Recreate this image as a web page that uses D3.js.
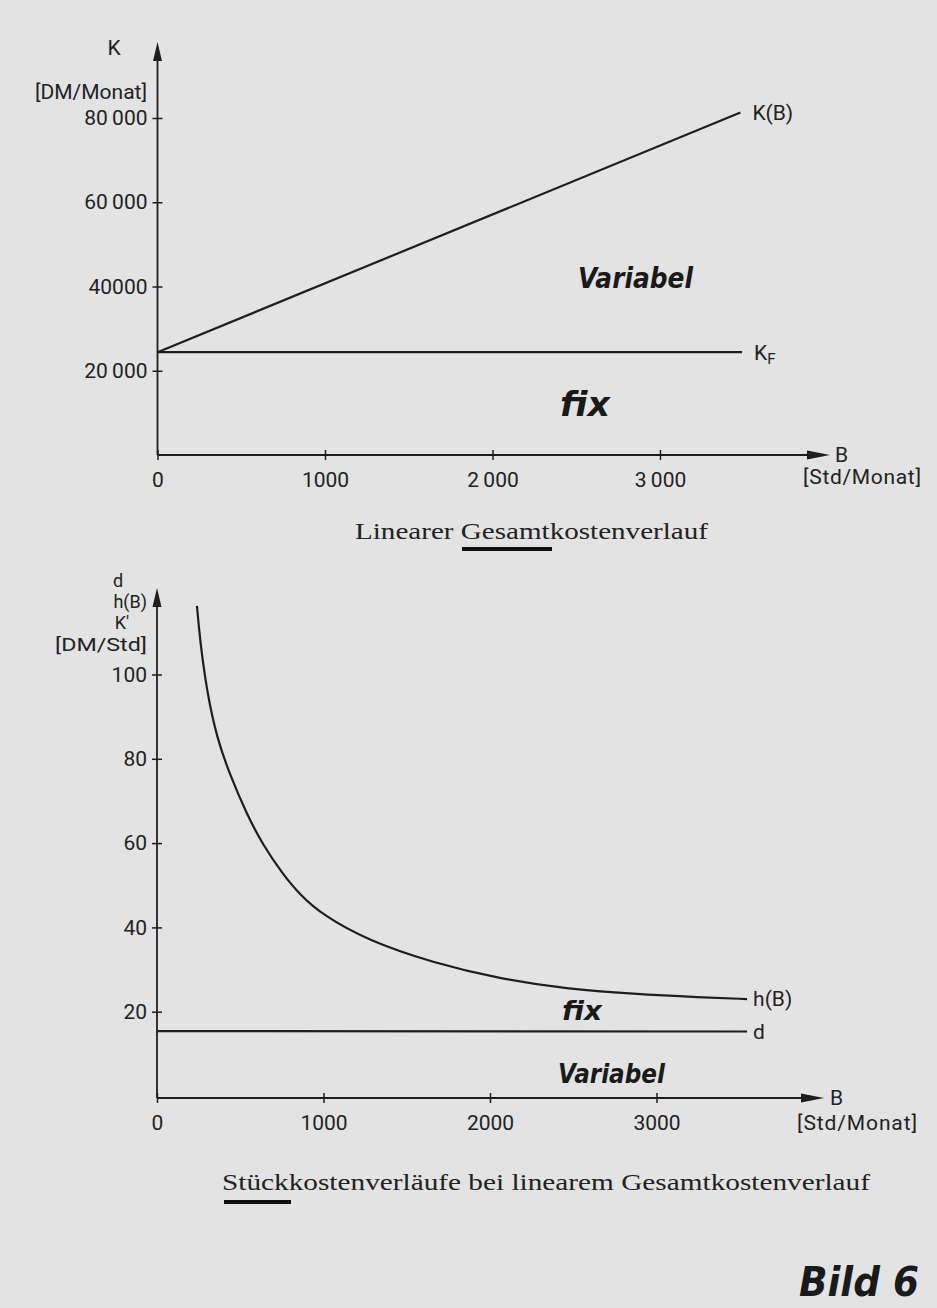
<!DOCTYPE html>
<html>
<head>
<meta charset="utf-8">
<script src="https://cdn.jsdelivr.net/npm/d3@7"></script>
<style>
  body { margin: 0; background: #e3e3e3; }
  svg { display: block; }
  .tick text { font-family: Roboto, sans-serif; font-size: 21px; fill: #222; }
  .lbl { font-family: Roboto, sans-serif; font-size: 21px; fill: #222; }
  .hand { font-family: "DejaVu Sans", sans-serif; font-weight: bold; font-style: italic; fill: #1a1a1a; }
  .cap { font-family: "Liberation Serif", serif; font-size: 23px; fill: #222; }
</style>
</head>
<body>
<script>
// top chart: Gesamtkosten K [DM/Monat] over B [Std/Monat]
var bTicks = [0, 1000, 2000, 3000];
var bTickLabelsTop = ["0", "1000", "2\u2009000", "3\u2009000"];
var bTickLabelsBottom = ["0", "1000", "2000", "3000"];
var kTicks = [20000, 40000, 60000, 80000];
var kTickLabels = ["20\u2009000", "40000", "60\u2009000", "80\u2009000"];
var kbLine = [{b: 0, k: 24400}, {b: 3480, k: 81300}];
var kfLine = [{b: 0, k: 24400}, {b: 3490, k: 24400}];

// bottom chart: Stueckkosten [DM/Std]
var hTicks = [20, 40, 60, 80, 100];
var hB_b = [240, 258, 300, 360, 438, 541, 637, 751, 859, 997, 1261, 1658, 2060, 2462, 2859, 3261, 3544];
var hB_v = [116.3, 108.2, 95.8, 84.9, 76.2, 66.7, 59.5, 52.9, 47.7, 42.9, 37.0, 31.6, 27.8, 25.4, 24.2, 23.4, 23.0];
var dLine = [{b: 0, v: 15.4}, {b: 3544, v: 15.3}];

var width = 937;
var height = 1308;
var ink = "#1e1e1e";

var svg = d3.select("body").append("svg")
    .attr("width", width)
    .attr("height", height);

svg.append("rect").attr("width", width).attr("height", height).attr("fill", "#e3e3e3");

function crossAxisX(g, scale, y, labels) {
    var axis = d3.axisBottom(scale).tickValues(bTicks)
        .tickFormat(function(d, i){ return labels[i]; })
        .tickSize(5).tickPadding(8);
    var a = g.append("g").attr("transform", "translate(0," + y + ")").call(axis);
    a.select(".domain").remove();
    a.selectAll(".tick line").attr("y1", -5).attr("stroke", ink).attr("stroke-width", 1.5);
    a.selectAll(".tick text").attr("dy", "0.9em");
    return a;
}

function crossAxisY(g, scale, x, ticks, labels) {
    var axis = d3.axisLeft(scale).tickValues(ticks)
        .tickFormat(function(d, i){ return labels ? labels[i] : d; })
        .tickSize(5).tickPadding(5);
    var a = g.append("g").attr("transform", "translate(" + x + ",0)").call(axis);
    a.select(".domain").remove();
    a.selectAll(".tick line").attr("x1", 5).attr("stroke", ink).attr("stroke-width", 1.5);
    return a;
}

function arrowUp(x, yTip) {
    svg.append("path").attr("d", "M" + x + "," + yTip + " L" + (x - 4.5) + "," + (yTip + 19) + " L" + (x + 4.5) + "," + (yTip + 19) + " Z").attr("fill", ink);
}
function arrowRight(xTip, y) {
    svg.append("path").attr("d", "M" + xTip + "," + y + " L" + (xTip - 23) + "," + (y - 4.5) + " L" + (xTip - 23) + "," + (y + 4.5) + " Z").attr("fill", ink);
}

// ---------- top chart ----------
var x1 = d3.scaleLinear().domain([0, 1000]).range([157.5, 325]);
var y1 = d3.scaleLinear().domain([0, 80000]).range([455, 118]);

var topG = svg.append("g");
topG.append("line").attr("x1", x1(0)).attr("x2", x1(0)).attr("y1", y1(0)).attr("y2", 50).attr("stroke", ink).attr("stroke-width", 1.8);
topG.append("line").attr("x1", x1(0)).attr("x2", 820).attr("y1", y1(0)).attr("y2", y1(0)).attr("stroke", ink).attr("stroke-width", 1.8);
arrowUp(x1(0), 42);
arrowRight(830, y1(0));
crossAxisY(topG, y1, x1(0), kTicks, kTickLabels);
crossAxisX(topG, x1, y1(0), bTickLabelsTop);

var line1 = d3.line().x(function(d){ return x1(d.b); }).y(function(d){ return y1(d.k); });
topG.append("path").datum(kbLine).attr("d", line1).attr("fill", "none").attr("stroke", ink).attr("stroke-width", 2.2);
topG.append("path").datum(kfLine).attr("d", line1).attr("fill", "none").attr("stroke", ink).attr("stroke-width", 2.2);

topG.append("text").attr("class", "lbl").attr("x", 114).attr("y", 55).attr("text-anchor", "middle").text("K");
topG.append("text").attr("class", "lbl").attr("x", 147).attr("y", 99).attr("text-anchor", "end").text("[DM/Monat]");
topG.append("text").attr("class", "lbl").attr("x", x1(kbLine[1].b) + 12).attr("y", y1(kbLine[1].k)).attr("dy", "0.35em").text("K(B)");
var kf = topG.append("text").attr("class", "lbl").attr("x", x1(kfLine[1].b) + 12).attr("y", y1(kfLine[1].k)).attr("dy", "0.35em").text("K");
kf.append("tspan").attr("dy", "0.3em").style("font-size", "15px").text("F");
topG.append("text").attr("class", "lbl").attr("x", 835).attr("y", y1(0)).attr("dy", "0.35em").text("B");
topG.append("text").attr("class", "lbl").attr("x", 803).attr("y", 477).attr("dy", "0.35em").attr("textLength", 118).text("[Std/Monat]");

topG.append("text").attr("class", "hand").attr("x", 578).attr("y", 288).style("font-size", "29px").attr("textLength", 115).attr("lengthAdjust", "spacingAndGlyphs").text("Variabel");
topG.append("text").attr("class", "hand").attr("x", 560).attr("y", 416).style("font-size", "33px").attr("textLength", 50).attr("lengthAdjust", "spacingAndGlyphs").text("fix");

topG.append("text").attr("class", "cap").attr("x", 355).attr("y", 539).attr("textLength", 353).attr("lengthAdjust", "spacingAndGlyphs").text("Linearer Gesamtkostenverlauf");
topG.append("line").attr("x1", 462).attr("x2", 552).attr("y1", 549).attr("y2", 549).attr("stroke", "#111").attr("stroke-width", 4);

// ---------- bottom chart ----------
var x2 = d3.scaleLinear().domain([0, 1000]).range([157, 323.5]);
var y2 = d3.scaleLinear().domain([0, 100]).range([1096, 674.5]);
var axisY2 = 1098;

var bot = svg.append("g");
bot.append("line").attr("x1", x2(0)).attr("x2", x2(0)).attr("y1", axisY2).attr("y2", 596).attr("stroke", ink).attr("stroke-width", 1.8);
bot.append("line").attr("x1", x2(0)).attr("x2", 815).attr("y1", axisY2).attr("y2", axisY2).attr("stroke", ink).attr("stroke-width", 1.8);
arrowUp(x2(0), 588);
arrowRight(824, axisY2);
crossAxisY(bot, y2, x2(0), hTicks, null);
crossAxisX(bot, x2, axisY2, bTickLabelsBottom);

var hData = hB_b.map(function(b, i){ return {b: b, v: hB_v[i]}; });
// the curve is drawn by hand in the original, basis keeps it smooth
var line2 = d3.line().x(function(d){ return x2(d.b); }).y(function(d){ return y2(d.v); }).curve(d3.curveBasis);
bot.append("path").datum(hData).attr("d", line2).attr("fill", "none").attr("stroke", ink).attr("stroke-width", 2.2);
bot.append("path").datum(dLine).attr("d", line2).attr("fill", "none").attr("stroke", ink).attr("stroke-width", 2.2);

// stacked y-axis labels, a bit smaller so they do not collide
bot.append("text").attr("class", "lbl").style("font-size", "18px").attr("x", 118).attr("y", 587).attr("text-anchor", "middle").text("d");
bot.append("text").attr("class", "lbl").style("font-size", "18px").attr("x", 147).attr("y", 608).attr("text-anchor", "end").text("h(B)");
bot.append("text").attr("class", "lbl").style("font-size", "18px").attr("x", 122).attr("y", 629).attr("text-anchor", "middle").text("K'");
bot.append("text").attr("class", "lbl").style("font-size", "18px").attr("x", 147).attr("y", 651).attr("text-anchor", "end").attr("textLength", 92).attr("lengthAdjust", "spacingAndGlyphs").text("[DM/Std]");
bot.append("text").attr("class", "lbl").attr("x", x2(hB_b[hB_b.length - 1]) + 6).attr("y", y2(hB_v[hB_v.length - 1])).attr("dy", "0.35em").text("h(B)");
bot.append("text").attr("class", "lbl").attr("x", x2(dLine[1].b) + 6).attr("y", y2(dLine[1].v)).attr("dy", "0.35em").text("d");
bot.append("text").attr("class", "lbl").attr("x", 830).attr("y", axisY2).attr("dy", "0.35em").text("B");
bot.append("text").attr("class", "lbl").attr("x", 797).attr("y", 1123).attr("dy", "0.35em").attr("textLength", 120).text("[Std/Monat]");

bot.append("text").attr("class", "hand").attr("x", 562).attr("y", 1020).style("font-size", "27px").attr("textLength", 40).attr("lengthAdjust", "spacingAndGlyphs").text("fix");
bot.append("text").attr("class", "hand").attr("x", 558).attr("y", 1083).style("font-size", "27px").attr("textLength", 107).attr("lengthAdjust", "spacingAndGlyphs").text("Variabel");

bot.append("text").attr("class", "cap").attr("x", 222).attr("y", 1190).attr("textLength", 648).attr("lengthAdjust", "spacingAndGlyphs").text("Stückkostenverläufe bei linearem Gesamtkostenverlauf");
bot.append("line").attr("x1", 224).attr("x2", 291).attr("y1", 1202).attr("y2", 1202).attr("stroke", "#111").attr("stroke-width", 4);

svg.append("text").attr("class", "hand").attr("x", 799).attr("y", 1296).style("font-size", "40px").attr("textLength", 120).attr("lengthAdjust", "spacingAndGlyphs").text("Bild 6");
</script>
</body>
</html>
